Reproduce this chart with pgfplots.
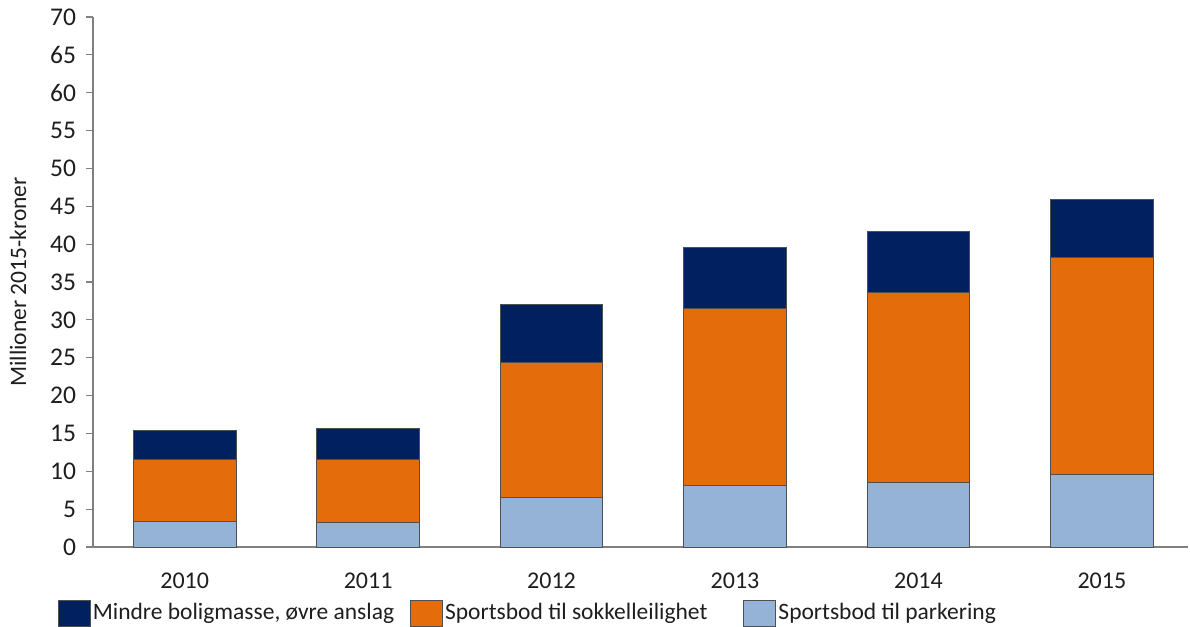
\documentclass[border=0pt]{standalone}
\usepackage{pgfplots}
\pgfplotsset{compat=1.18}
\usepackage{fontspec}
\setmainfont{Carlito}
\definecolor{cdark}{RGB}{0,32,96}
\definecolor{corange}{RGB}{228,108,10}
\definecolor{clight}{RGB}{149,179,215}
\definecolor{cedge}{RGB}{80,80,80}
\definecolor{caxis}{RGB}{128,128,128}
\definecolor{ctext}{RGB}{30,30,30}
\begin{document}
\fontsize{23.5bp}{27bp}\selectfont
\begin{tikzpicture}
\useasboundingbox (-93bp,-80bp) rectangle (1097bp,547bp);
\begin{axis}[
  scale only axis, width=1095bp, height=530bp,
  xmin=-0.5, xmax=5.47, ymin=0, ymax=70,
  ybar stacked, bar width=0.56,
  axis x line=bottom, axis y line=left,
  axis line style={-, caxis, line width=1.2bp},
  xtick={0,1,2,3,4,5},
  xticklabels={2010,2011,2012,2013,2014,2015},
  x tick style={draw=none},
  ytick={0,5,...,70},
  y tick style={caxis, line width=1.2bp},
  tick align=outside,
  major tick length=7bp,
  /pgf/number format/assume math mode=true,
  every tick label/.append style={text=ctext},
  xticklabel style={yshift=-11bp, font=\fontsize{24bp}{28bp}\selectfont},
  yticklabel style={xshift=-2bp, font=\fontsize{25.5bp}{29bp}\selectfont},
  ylabel={Millioner 2015-kroner},
  ylabel style={at={(axis description cs:-0.0685,0.5)}, anchor=center, font=\fontsize{23.5bp}{27bp}\selectfont, text=ctext},
  every axis plot/.append style={draw=cedge, line width=1bp},
  reverse legend,
  legend columns=3,
  legend style={draw=none, fill=none, at={(-0.035,-0.125)}, anchor=west,
    font=\fontsize{23.5bp}{27bp}\selectfont, text=ctext,
    /tikz/column 2/.style={column sep=14bp},
    /tikz/column 4/.style={column sep=34bp}},
  legend image code/.code={\draw[#1,draw=cedge,line width=1bp] (0bp,-13bp) rectangle (32bp,13bp);},
]
\addplot[fill=clight] coordinates {(0,3.35) (1,3.17) (2,6.55) (3,8.1) (4,8.5) (5,9.55)};
\addplot[fill=corange] coordinates {(0,8.15) (1,8.43) (2,17.85) (3,23.4) (4,25.05) (5,28.7)};
\addplot[fill=cdark] coordinates {(0,3.85) (1,4.03) (2,7.6) (3,8.1) (4,8.1) (5,7.7)};
\legend{Sportsbod til parkering, Sportsbod til sokkelleilighet, {Mindre boligmasse, øvre anslag}}
\end{axis}
\end{tikzpicture}
\end{document}
